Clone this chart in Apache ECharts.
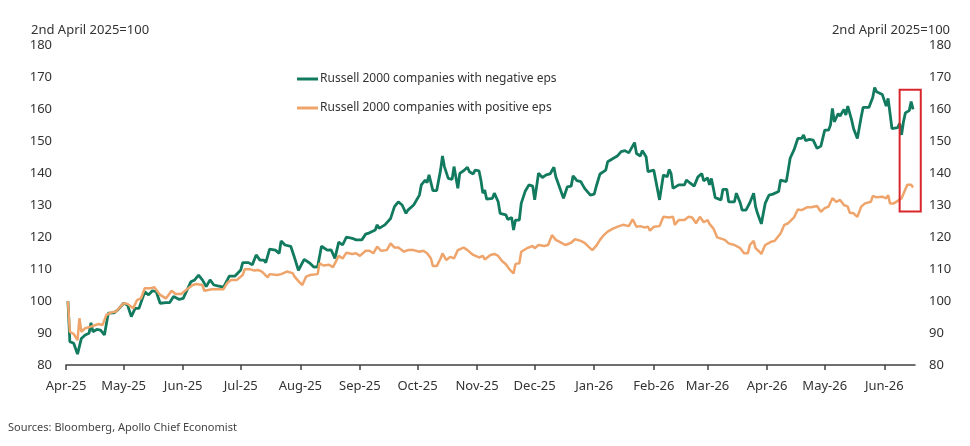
<!DOCTYPE html>
<html>
<head>
<meta charset="utf-8">
<title>Russell 2000 companies by eps</title>
<script src="https://cdn.jsdelivr.net/npm/echarts@6/dist/echarts.min.js"></script>
<style>
  html, body { margin: 0; padding: 0; background: #fff; }
  #chart { width: 970px; height: 446px; }
</style>
</head>
<body>
<div id="chart"></div>
<script>
// 数据: 2nd April 2025 = 100
const negName = 'Russell 2000 companies with negative eps'
const posName = 'Russell 2000 companies with positive eps'

const negDates = [
  '2025-04-02', '2025-04-03', '2025-04-05', '2025-04-06', '2025-04-07', '2025-04-09', '2025-04-10', '2025-04-11', '2025-04-13', '2025-04-14', '2025-04-15', '2025-04-17', '2025-04-19', '2025-04-21', '2025-04-23', '2025-04-26', '2025-04-28',
  '2025-05-01', '2025-05-03', '2025-05-05', '2025-05-07', '2025-05-09', '2025-05-12', '2025-05-14', '2025-05-16', '2025-05-18', '2025-05-20', '2025-05-23', '2025-05-25', '2025-05-27', '2025-05-30',
  '2025-06-01', '2025-06-03', '2025-06-05', '2025-06-07', '2025-06-09', '2025-06-11', '2025-06-13', '2025-06-15', '2025-06-17', '2025-06-19', '2025-06-22', '2025-06-24', '2025-06-25', '2025-06-28',
  '2025-07-01', '2025-07-02', '2025-07-05', '2025-07-07', '2025-07-09', '2025-07-11', '2025-07-13', '2025-07-14', '2025-07-16', '2025-07-19', '2025-07-21', '2025-07-22', '2025-07-24', '2025-07-27', '2025-07-29', '2025-07-31',
  '2025-08-03', '2025-08-06', '2025-08-08', '2025-08-10', '2025-08-12', '2025-08-15', '2025-08-17', '2025-08-19', '2025-08-21', '2025-08-23', '2025-08-25', '2025-08-28', '2025-08-30',
  '2025-09-02', '2025-09-04', '2025-09-06', '2025-09-09', '2025-09-10', '2025-09-11', '2025-09-14', '2025-09-17', '2025-09-19', '2025-09-21', '2025-09-23', '2025-09-25', '2025-09-26', '2025-09-29',
  '2025-10-02', '2025-10-03', '2025-10-04', '2025-10-05', '2025-10-06', '2025-10-07', '2025-10-09', '2025-10-11', '2025-10-13', '2025-10-14', '2025-10-15', '2025-10-17', '2025-10-19', '2025-10-20', '2025-10-22', '2025-10-23', '2025-10-25', '2025-10-27', '2025-10-28', '2025-10-30', '2025-10-31',
  '2025-11-02', '2025-11-03', '2025-11-04', '2025-11-05', '2025-11-06', '2025-11-09', '2025-11-10', '2025-11-12', '2025-11-13', '2025-11-16', '2025-11-17', '2025-11-19', '2025-11-20', '2025-11-21', '2025-11-23', '2025-11-24', '2025-11-26', '2025-11-28', '2025-11-30',
  '2025-12-01', '2025-12-03', '2025-12-05', '2025-12-07', '2025-12-09', '2025-12-11', '2025-12-12', '2025-12-13', '2025-12-16', '2025-12-18', '2025-12-20', '2025-12-21', '2025-12-23', '2025-12-25', '2025-12-27', '2025-12-30',
  '2026-01-01', '2026-01-02', '2026-01-04', '2026-01-07', '2026-01-08', '2026-01-11', '2026-01-13', '2026-01-15', '2026-01-17', '2026-01-19', '2026-01-20', '2026-01-22', '2026-01-23', '2026-01-25', '2026-01-26', '2026-01-28', '2026-01-29',
  '2026-02-01', '2026-02-02', '2026-02-04', '2026-02-06', '2026-02-08', '2026-02-09', '2026-02-10', '2026-02-11', '2026-02-14', '2026-02-17', '2026-02-18', '2026-02-20', '2026-02-22', '2026-02-24', '2026-02-26', '2026-02-27',
  '2026-03-01', '2026-03-02', '2026-03-03', '2026-03-05', '2026-03-08', '2026-03-09', '2026-03-11', '2026-03-12', '2026-03-15', '2026-03-16', '2026-03-18', '2026-03-19', '2026-03-21', '2026-03-23', '2026-03-25', '2026-03-26', '2026-03-27', '2026-03-28', '2026-03-29', '2026-03-31',
  '2026-04-02', '2026-04-04', '2026-04-07', '2026-04-08', '2026-04-11', '2026-04-12', '2026-04-13', '2026-04-15', '2026-04-17', '2026-04-19', '2026-04-20', '2026-04-21', '2026-04-23', '2026-04-25', '2026-04-27', '2026-04-29',
  '2026-05-01', '2026-05-03', '2026-05-04', '2026-05-05', '2026-05-06', '2026-05-08', '2026-05-09', '2026-05-11', '2026-05-12', '2026-05-13', '2026-05-15', '2026-05-16', '2026-05-18', '2026-05-20', '2026-05-21', '2026-05-24', '2026-05-26', '2026-05-27', '2026-05-28', '2026-05-31',
  '2026-06-01', '2026-06-02', '2026-06-03', '2026-06-05', '2026-06-06', '2026-06-08', '2026-06-09', '2026-06-10', '2026-06-11', '2026-06-12', '2026-06-14', '2026-06-15', '2026-06-16'
]
const negValues = [
  100.0, 87.3, 86.8, 86.6, 83.4, 88.3, 87.8, 89.4, 89.9, 93.2, 90.4, 91.1, 90.9, 89.4, 96.2, 96.3, 97.2,
  99.3, 98.8, 95.1, 97.7, 97.7, 102.9, 101.9, 103.2, 102.9, 99.3, 99.5, 99.5, 101.4, 100.5,
  100.8, 103.4, 106.0, 106.6, 108.1, 106.6, 104.5, 106.6, 105.0, 104.7, 104.3, 106.6, 107.8, 107.8,
  109.7, 112.0, 112.0, 111.3, 114.4, 112.8, 112.8, 112.0, 116.2, 115.9, 114.9, 118.8, 117.5, 117.1, 113.5, 109.6,
  113.0, 111.8, 110.6, 110.7, 117.1, 115.9, 116.0, 113.3, 118.4, 117.5, 120.0, 119.6, 119.1,
  119.1, 120.9, 121.3, 122.2, 123.8, 122.7, 123.8, 125.8, 129.5, 131.0, 130.0, 127.4, 128.4, 130.0,
  133.1, 136.3, 136.6, 137.8, 137.0, 139.4, 134.5, 134.5, 140.9, 145.3, 142.0, 138.3, 138.0, 142.0, 135.2, 139.9, 140.7, 141.8, 140.4, 139.7, 140.9,
  140.7, 137.8, 133.7, 134.7, 131.8, 132.1, 133.7, 131.0, 127.4, 126.9, 125.5, 126.1, 122.2, 125.3, 125.3, 130.5, 134.2, 136.3, 135.9,
  131.6, 139.9, 138.6, 139.4, 139.7, 141.8, 138.8, 138.3, 132.1, 135.7, 135.9, 139.1, 137.6, 137.3, 135.2, 133.1,
  133.4, 135.7, 139.7, 140.9, 143.5, 144.6, 145.3, 146.7, 147.0, 146.3, 145.9, 149.5, 146.1, 145.3, 147.0, 145.1, 140.4,
  140.9, 141.4, 131.6, 139.4, 138.8, 141.1, 139.9, 135.2, 136.3, 136.3, 137.8, 136.8, 135.9, 138.8, 139.8, 137.5,
  138.5, 136.3, 138.3, 132.3, 131.6, 134.9, 134.9, 131.0, 131.0, 133.7, 130.7, 128.4, 128.4, 130.7, 133.7, 129.5, 127.4, 127.2, 124.1, 130.5,
  133.1, 133.4, 134.2, 137.8, 137.3, 140.9, 144.6, 147.2, 150.8, 150.8, 151.9, 150.1, 150.5, 150.3, 147.7, 148.4,
  153.4, 153.4, 155.0, 160.2, 156.0, 158.6, 157.8, 159.9, 158.1, 160.9, 156.6, 153.9, 150.8, 157.6, 160.5, 160.5, 163.6, 166.7, 165.4, 164.5,
  163.9, 160.9, 163.3, 153.9, 153.9, 154.2, 155.5, 151.9, 156.0, 158.8, 159.5, 162.3, 159.9
]

const posDates = [
  '2025-04-02', '2025-04-03', '2025-04-05', '2025-04-07', '2025-04-08', '2025-04-09', '2025-04-11', '2025-04-14', '2025-04-15', '2025-04-18', '2025-04-20', '2025-04-22', '2025-04-24', '2025-04-27',
  '2025-05-01', '2025-05-03', '2025-05-06', '2025-05-08', '2025-05-10', '2025-05-12', '2025-05-15', '2025-05-17', '2025-05-20', '2025-05-23', '2025-05-26', '2025-05-28', '2025-05-31',
  '2025-06-03', '2025-06-06', '2025-06-08', '2025-06-11', '2025-06-12', '2025-06-16', '2025-06-19', '2025-06-22', '2025-06-24', '2025-06-26', '2025-06-29',
  '2025-07-02', '2025-07-03', '2025-07-06', '2025-07-08', '2025-07-10', '2025-07-12', '2025-07-15', '2025-07-16', '2025-07-20', '2025-07-22', '2025-07-25', '2025-07-28', '2025-07-29', '2025-07-31',
  '2025-08-02', '2025-08-04', '2025-08-06', '2025-08-10', '2025-08-11', '2025-08-13', '2025-08-16', '2025-08-18', '2025-08-21', '2025-08-23', '2025-08-25', '2025-08-28', '2025-08-30',
  '2025-09-01', '2025-09-04', '2025-09-06', '2025-09-08', '2025-09-10', '2025-09-12', '2025-09-15', '2025-09-17', '2025-09-19', '2025-09-21', '2025-09-24', '2025-09-26', '2025-09-29',
  '2025-10-02', '2025-10-04', '2025-10-06', '2025-10-08', '2025-10-09', '2025-10-11', '2025-10-13', '2025-10-14', '2025-10-16', '2025-10-18', '2025-10-20', '2025-10-22', '2025-10-25', '2025-10-27', '2025-10-30',
  '2025-11-02', '2025-11-04', '2025-11-05', '2025-11-08', '2025-11-10', '2025-11-12', '2025-11-14', '2025-11-16', '2025-11-18', '2025-11-20', '2025-11-21', '2025-11-23', '2025-11-24', '2025-11-27', '2025-11-30',
  '2025-12-01', '2025-12-03', '2025-12-06', '2025-12-08', '2025-12-10', '2025-12-12', '2025-12-14', '2025-12-17', '2025-12-20', '2025-12-22', '2025-12-25', '2025-12-27', '2025-12-29', '2025-12-31',
  '2026-01-02', '2026-01-04', '2026-01-06', '2026-01-08', '2026-01-11', '2026-01-14', '2026-01-16', '2026-01-19', '2026-01-21', '2026-01-23', '2026-01-25', '2026-01-27', '2026-01-29', '2026-01-30',
  '2026-02-01', '2026-02-04', '2026-02-06', '2026-02-09', '2026-02-11', '2026-02-12', '2026-02-14', '2026-02-17', '2026-02-19', '2026-02-21', '2026-02-23', '2026-02-25', '2026-02-27',
  '2026-03-01', '2026-03-02', '2026-03-04', '2026-03-06', '2026-03-08', '2026-03-10', '2026-03-12', '2026-03-15', '2026-03-16', '2026-03-18', '2026-03-20', '2026-03-22', '2026-03-23', '2026-03-25', '2026-03-26', '2026-03-28', '2026-03-29', '2026-03-31',
  '2026-04-03', '2026-04-05', '2026-04-08', '2026-04-10', '2026-04-12', '2026-04-15', '2026-04-17', '2026-04-19', '2026-04-20', '2026-04-22', '2026-04-24', '2026-04-27', '2026-04-29',
  '2026-05-01', '2026-05-03', '2026-05-05', '2026-05-07', '2026-05-09', '2026-05-11', '2026-05-13', '2026-05-14', '2026-05-16', '2026-05-18', '2026-05-20', '2026-05-22', '2026-05-25', '2026-05-26', '2026-05-28', '2026-05-31',
  '2026-06-02', '2026-06-03', '2026-06-04', '2026-06-06', '2026-06-08', '2026-06-10', '2026-06-12', '2026-06-13', '2026-06-15', '2026-06-16'
]
const posValues = [
  100.0, 90.4, 89.7, 87.8, 94.6, 90.4, 91.5, 92.0, 92.5, 92.8, 92.5, 95.6, 96.3, 96.7,
  99.3, 99.1, 97.7, 100.3, 100.8, 104.0, 104.0, 104.3, 101.9, 100.8, 103.2, 102.2, 102.2,
  103.7, 105.0, 105.3, 105.0, 103.2, 103.7, 103.7, 103.7, 105.7, 106.6, 106.6,
  108.1, 109.9, 109.9, 109.5, 109.7, 109.2, 107.4, 108.4, 108.1, 108.4, 109.2, 108.7, 107.6, 106.2,
  105.0, 107.6, 108.1, 108.4, 111.8, 111.1, 111.3, 110.6, 114.1, 113.3, 115.1, 114.7, 114.9,
  114.1, 115.7, 115.7, 114.9, 117.0, 115.7, 115.9, 118.0, 116.7, 116.7, 115.4, 115.9, 115.9,
  115.4, 115.7, 114.9, 113.3, 110.9, 110.9, 113.3, 114.9, 112.8, 113.8, 113.3, 115.9, 116.7, 115.9, 114.4,
  113.6, 114.1, 113.0, 114.4, 114.7, 114.1, 112.5, 111.5, 109.8, 108.6, 111.6, 111.8, 115.4, 116.5, 117.2,
  116.5, 117.5, 117.2, 117.5, 120.6, 119.1, 118.5, 117.5, 118.2, 119.3, 118.8, 118.2, 117.0, 115.9,
  117.2, 119.1, 120.6, 121.7, 122.7, 123.4, 123.8, 123.4, 125.5, 123.2, 123.4, 123.0, 123.2, 122.0,
  123.2, 123.4, 126.3, 126.1, 126.3, 123.8, 125.3, 125.3, 126.3, 126.1, 124.3, 126.3, 124.6,
  125.3, 124.1, 122.7, 119.9, 119.5, 119.1, 118.0, 117.5, 118.0, 116.5, 114.9, 114.9, 117.5, 118.8, 116.5, 115.4, 114.7, 117.5,
  118.5, 118.8, 121.1, 123.8, 124.3, 126.1, 128.6, 128.4, 127.9, 129.3, 129.3, 129.7, 127.9,
  129.0, 129.5, 132.1, 131.0, 131.6, 130.0, 129.5, 127.6, 127.4, 126.3, 129.5, 130.5, 131.0, 132.8, 132.4, 132.6,
  132.1, 133.1, 130.5, 130.5, 131.3, 132.1, 134.9, 136.3, 136.3, 135.5
]

// 坐标轴范围
const xRange = ['2025-04-01', '2026-06-17']
const yTicks = [80, 180, 10]
const months = ['Jan', 'Feb', 'Mar', 'Apr', 'May', 'Jun', 'Jul', 'Aug', 'Sep', 'Oct', 'Nov', 'Dec']

// 红框 (最近两周)
const boxDates = ['2026-06-09', '2026-06-20']
const boxValues = [128, 166]

const green = '#127a5e'
const orange = '#eea46a'
const textColor = '#333'
const font = 'Noto Sans'

// 'yyyy-mm-dd' -> 本地时间戳
function ts (s) {
  const p = s.split('-').map(Number)
  return new Date(p[0], p[1] - 1, p[2]).getTime()
}

function pairs (dates, values) {
  return dates.map((d, i) => [ts(d), values[i]])
}

const chart = echarts.init(document.getElementById('chart'))

const yAxisBase = {
  type: 'value',
  min: yTicks[0],
  max: yTicks[1],
  interval: yTicks[2],
  axisLine: { show: false },
  axisTick: { show: false },
  splitLine: { show: false },
  axisLabel: { fontSize: 13, color: textColor, fontFamily: font, margin: 14 }
}

const option = {
  animation: false,
  backgroundColor: '#fff',
  textStyle: { fontFamily: font },
  title: [
    {
      text: '2nd April 2025=100',
      left: 26, top: 19,
      textStyle: { fontSize: 13, fontWeight: 'normal', color: textColor, fontFamily: font }
    },
    {
      text: '2nd April 2025=100',
      right: 15, top: 19,
      textStyle: { fontSize: 13, fontWeight: 'normal', color: textColor, fontFamily: font }
    },
    {
      text: 'Sources: Bloomberg, Apollo Chief Economist',
      left: 3, top: 417,
      textStyle: { fontSize: 11, fontWeight: 'normal', color: '#444', fontFamily: font }
    }
  ],
  legend: {
    orient: 'vertical',
    left: 292,
    top: 68,
    icon: 'rect',
    itemWidth: 21,
    itemHeight: 3,
    itemGap: 17,
    itemStyle: { borderWidth: 0 },
    textStyle: { fontSize: 12, color: textColor, fontFamily: font, padding: [0, 0, 0, -3] },
    data: [negName, posName]
  },
  grid: {
    left: 66,
    right: 55,
    top: 45,
    bottom: 81,
    containLabel: false
  },
  xAxis: {
    type: 'time',
    min: ts(xRange[0]),
    max: ts(xRange[1]),
    splitNumber: 14,
    axisLine: { lineStyle: { color: '#404040', width: 1.5 } },
    axisTick: { show: true, length: 5, lineStyle: { color: '#404040', width: 1.5 } },
    splitLine: { show: false },
    axisLabel: {
      fontSize: 13,
      color: textColor,
      fontFamily: font,
      margin: 15,
      formatter: function (value) {
        const d = new Date(value)
        return months[d.getMonth()] + '-' + String(d.getFullYear()).slice(2)
      }
    }
  },
  yAxis: [
    Object.assign({ position: 'left' }, yAxisBase),
    Object.assign({ position: 'right' }, yAxisBase)
  ],
  series: [
    {
      name: negName,
      type: 'line',
      data: pairs(negDates, negValues),
      showSymbol: false,
      symbol: 'none',
      lineStyle: { width: 2.8, color: green },
      itemStyle: { color: green }
    },
    {
      name: posName,
      type: 'line',
      data: pairs(posDates, posValues),
      showSymbol: false,
      symbol: 'none',
      lineStyle: { width: 2.5, color: orange },
      itemStyle: { color: orange }
    }
  ]
}

chart.setOption(option)

// 红框用坐标轴换算
const p1 = chart.convertToPixel({ xAxisIndex: 0, yAxisIndex: 0 }, [ts(boxDates[0]), boxValues[1]])
const p2 = chart.convertToPixel({ xAxisIndex: 0, yAxisIndex: 0 }, [ts(boxDates[1]), boxValues[0]])
chart.setOption({
  graphic: [{
    type: 'rect',
    z: 100,
    shape: { x: p1[0], y: p1[1], width: p2[0] - p1[0], height: p2[1] - p1[1] },
    style: { fill: 'none', stroke: '#d9262c', lineWidth: 2 }
  }]
})
</script>
</body>
</html>
